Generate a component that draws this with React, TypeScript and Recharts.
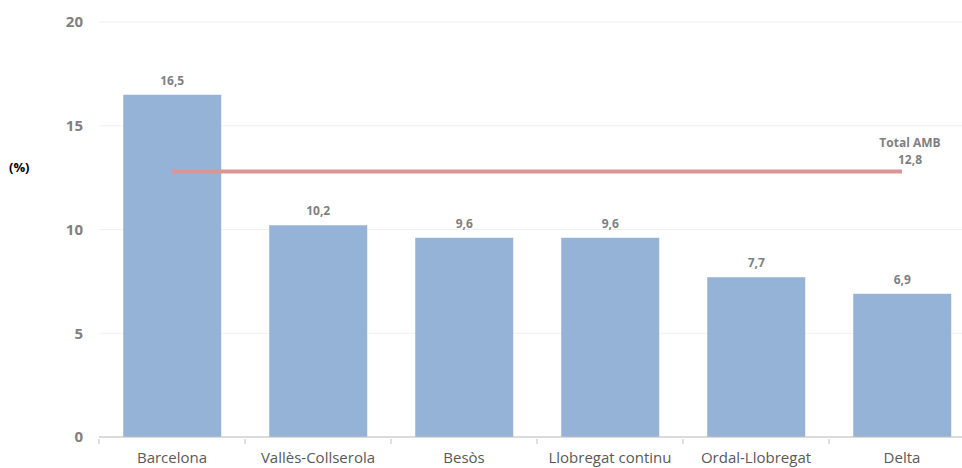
import { Bar, ComposedChart, CartesianGrid, LabelList, Line, XAxis, YAxis } from "recharts";

const CATEGORIES = ["Barcelona", "Vallès-Collserola", "Besòs", "Llobregat continu", "Ordal-Llobregat", "Delta"];
const SHARE = [16.5, 10.2, 9.6, 9.6, 7.7, 6.9];
const TOTAL_AMB = 12.8;
const Y_TICKS = [0, 5, 10, 15, 20];

const data = CATEGORIES.map((name, i) => ({ name, share: SHARE[i], total: TOTAL_AMB }));

const FONT = "'Open Sans', 'DejaVu Sans', sans-serif";
const BAND = 146;

function fmt(v: number): string {
	return v.toFixed(1).replace(".", ",");
}

function CategoryTick(props: any): React.ReactElement {
	const { x, y, payload, index } = props;
	const left = x - BAND / 2;
	return (
		<g>
			<line x1={left} x2={left} y1={y} y2={y + 5} stroke="#bfbfbf" />
			{index === CATEGORIES.length - 1 && (
				<line x1={left + BAND} x2={left + BAND} y1={y} y2={y + 5} stroke="#bfbfbf" />
			)}
			<text x={x} y={y + 24} textAnchor="middle" fontSize={15} fill="#595959" fontFamily={FONT}>
				{payload.value}
			</text>
		</g>
	);
}

function TotalLabel(props: any): React.ReactElement | null {
	const { x, y, index } = props;
	if (index !== CATEGORIES.length - 1) return null;
	return (
		<g fontFamily={FONT} fontWeight="bold" fontSize={12} fill="#7f7f7f">
			<text x={x + 8} y={y - 24} textAnchor="middle">Total AMB</text>
			<text x={x + 8} y={y - 7} textAnchor="middle">{fmt(TOTAL_AMB)}</text>
		</g>
	);
}

export default function App(): React.ReactElement {
	return (
		<div style={{ position: "fixed", left: 0, top: 0, width: 962, height: 468, overflow: "hidden", background: "#fff" }}>
			<div
				style={{
					position: "absolute",
					left: 9,
					top: 158,
					fontFamily: FONT,
					fontWeight: "bold",
					fontSize: 13,
					color: "#000",
				}}
			>
				(%)
			</div>
			<ComposedChart
				width={990}
				height={468}
				data={data}
				margin={{ top: 22, right: 15, bottom: 0, left: 0 }}
				barCategoryGap="16.6%"
			>
				<CartesianGrid vertical={false} stroke="#f0f0f0" />
				<XAxis
					dataKey="name"
					axisLine={{ stroke: "#bfbfbf" }}
					tickLine={false}
					tickSize={0}
					interval={0}
					height={31}
					tick={<CategoryTick />}
				/>
				<YAxis
					domain={[0, 20]}
					ticks={Y_TICKS}
					width={99}
					axisLine={false}
					tickLine={false}
					tickSize={0}
					tickMargin={16}
					tick={{ fontSize: 15, fontWeight: "bold", fill: "#7f7f7f", fontFamily: FONT }}
				/>
				<Bar dataKey="share" fill="#95b3d7" isAnimationActive={false}>
					<LabelList
						dataKey="share"
						position="top"
						offset={10}
						formatter={(v: number) => fmt(v)}
						style={{ fontSize: 12, fontWeight: "bold", fill: "#7f7f7f", fontFamily: FONT }}
					/>
				</Bar>
				<Line
					dataKey="total"
					stroke="#d99694"
					strokeWidth={4}
					dot={false}
					activeDot={false}
					isAnimationActive={false}
				>
					<LabelList dataKey="total" content={<TotalLabel />} />
				</Line>
			</ComposedChart>
		</div>
	);
}
